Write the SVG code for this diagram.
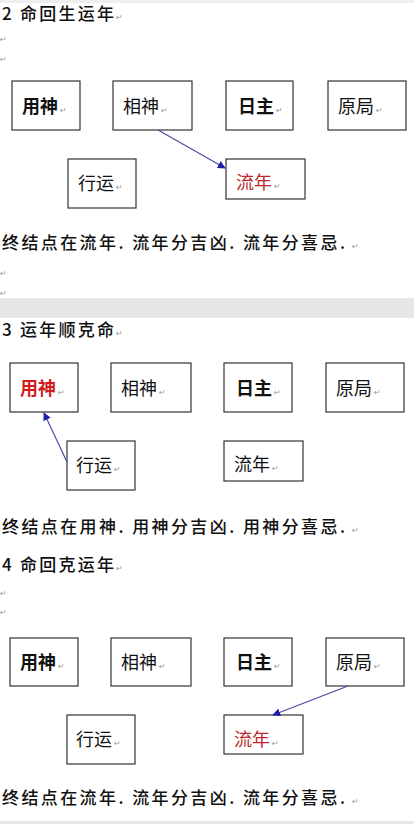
<svg xmlns="http://www.w3.org/2000/svg" width="414" height="824" viewBox="0 0 414 824">
<style>
.t{font-family:"Noto Sans CJK SC","Noto Sans",sans-serif;fill:#111}
.h{font-size:17px;font-weight:500}
.b{font-size:17px;font-weight:500}
.l{font-size:18px}
.bold{font-weight:bold}
.red{fill:#b8282c}
.red2{fill:#d01c1c}
.pm{font-family:"DejaVu Sans",sans-serif;font-size:8px;fill:#999}
.box{fill:#fff;stroke:#333;stroke-width:1.2}
.ar{stroke:#4a4aa8;stroke-width:1.2;fill:none}
</style>
<defs>
<marker id="ah" viewBox="0 0 10 10" refX="9" refY="5" markerWidth="8" markerHeight="8" orient="auto" markerUnits="userSpaceOnUse">
<path d="M0,0 L10,5 L0,10 z" fill="#1e1ea8"/>
</marker>
</defs>
<rect width="414" height="824" fill="#fff"/>
<rect x="0" y="0" width="414" height="3" fill="#eee"/>
<rect x="0" y="298" width="414" height="20" fill="#e6e6e6"/>
<rect x="0" y="821" width="414" height="3" fill="#e6e6e6"/>

<!-- Section 1 -->
<text class="t h" x="2" y="20" textLength="112">2 命回生运年</text><text class="pm" x="116" y="20">↵</text>
<text class="pm" x="0" y="42">↵</text>
<text class="pm" x="0" y="62">↵</text>
<g id="s1-yongshen"><rect class="box" x="12" y="81" width="68" height="49"/><text class="t l bold" x="22" y="113">用神</text><text class="pm" x="60" y="113">↵</text></g>
<g id="s1-xiangshen"><rect class="box" x="113" y="81" width="79" height="49"/><text class="t l" x="123" y="113">相神</text><text class="pm" x="161" y="113">↵</text></g>
<g id="s1-rizhu"><rect class="box" x="226" y="81" width="67" height="49"/><text class="t l bold" x="238" y="113">日主</text><text class="pm" x="276" y="113">↵</text></g>
<g id="s1-yuanju"><rect class="box" x="328" y="81" width="78" height="49"/><text class="t l" x="338" y="113">原局</text><text class="pm" x="376" y="113">↵</text></g>
<g id="s1-xingyun"><rect class="box" x="68" y="159" width="68" height="49"/><text class="t l" x="78" y="190">行运</text><text class="pm" x="116" y="190">↵</text></g>
<g id="s1-liunian"><rect class="box" x="226" y="159" width="79" height="40"/><text class="t l red" x="236" y="189">流年</text><text class="pm" x="274" y="189">↵</text></g>
<text class="t b" x="2" y="249" textLength="343">终结点在流年. 流年分吉凶. 流年分喜忌.</text><text class="pm" x="352" y="249">↵</text>
<text class="pm" x="0" y="276">↵</text>
<text class="pm" x="0" y="296">↵</text>

<!-- Section 2 -->
<text class="t h" x="2" y="336" textLength="112">3 运年顺克命</text><text class="pm" x="116" y="336">↵</text>
<g id="s2-yongshen"><rect class="box" x="10" y="363" width="68" height="49"/><text class="t l bold red2" x="20" y="395">用神</text><text class="pm" x="58" y="395">↵</text></g>
<g id="s2-xiangshen"><rect class="box" x="111" y="363" width="80" height="49"/><text class="t l" x="121" y="395">相神</text><text class="pm" x="159" y="395">↵</text></g>
<g id="s2-rizhu"><rect class="box" x="224" y="363" width="68" height="49"/><text class="t l bold" x="236" y="395">日主</text><text class="pm" x="274" y="395">↵</text></g>
<g id="s2-yuanju"><rect class="box" x="326" y="363" width="78" height="49"/><text class="t l" x="336" y="395">原局</text><text class="pm" x="374" y="395">↵</text></g>
<g id="s2-xingyun"><rect class="box" x="67" y="441" width="68" height="49"/><text class="t l" x="76" y="472">行运</text><text class="pm" x="114" y="472">↵</text></g>
<g id="s2-liunian"><rect class="box" x="224" y="441" width="79" height="40"/><text class="t l" x="234" y="471">流年</text><text class="pm" x="272" y="471">↵</text></g>
<text class="t b" x="2" y="533" textLength="343">终结点在用神. 用神分吉凶. 用神分喜忌.</text><text class="pm" x="352" y="533">↵</text>

<!-- Section 3 -->
<text class="t h" x="2" y="571" textLength="112">4 命回克运年</text><text class="pm" x="116" y="571">↵</text>
<text class="pm" x="0" y="596">↵</text>
<text class="pm" x="0" y="615">↵</text>
<g id="s3-yongshen"><rect class="box" x="10" y="638" width="68" height="48"/><text class="t l bold" x="20" y="669">用神</text><text class="pm" x="58" y="669">↵</text></g>
<g id="s3-xiangshen"><rect class="box" x="111" y="638" width="80" height="48"/><text class="t l" x="121" y="669">相神</text><text class="pm" x="159" y="669">↵</text></g>
<g id="s3-rizhu"><rect class="box" x="224" y="638" width="68" height="48"/><text class="t l bold" x="236" y="669">日主</text><text class="pm" x="274" y="669">↵</text></g>
<g id="s3-yuanju"><rect class="box" x="326" y="638" width="78" height="48"/><text class="t l" x="336" y="669">原局</text><text class="pm" x="374" y="669">↵</text></g>
<g id="s3-xingyun"><rect class="box" x="67" y="715" width="68" height="49"/><text class="t l" x="76" y="746">行运</text><text class="pm" x="114" y="746">↵</text></g>
<g id="s3-liunian"><rect class="box" x="224" y="715" width="79" height="39"/><text class="t l red" x="234" y="746">流年</text><text class="pm" x="272" y="746">↵</text></g>
<text class="t b" x="2" y="804" textLength="343">终结点在流年. 流年分吉凶. 流年分喜忌.</text><text class="pm" x="352" y="804">↵</text>

<g id="connectors">
<line class="ar" x1="158" y1="130" x2="225" y2="168" marker-end="url(#ah)"/>
<line class="ar" x1="67" y1="462" x2="44" y2="413" marker-end="url(#ah)"/>
<line class="ar" x1="348" y1="686" x2="273" y2="715" marker-end="url(#ah)"/>
</g>
</svg>
